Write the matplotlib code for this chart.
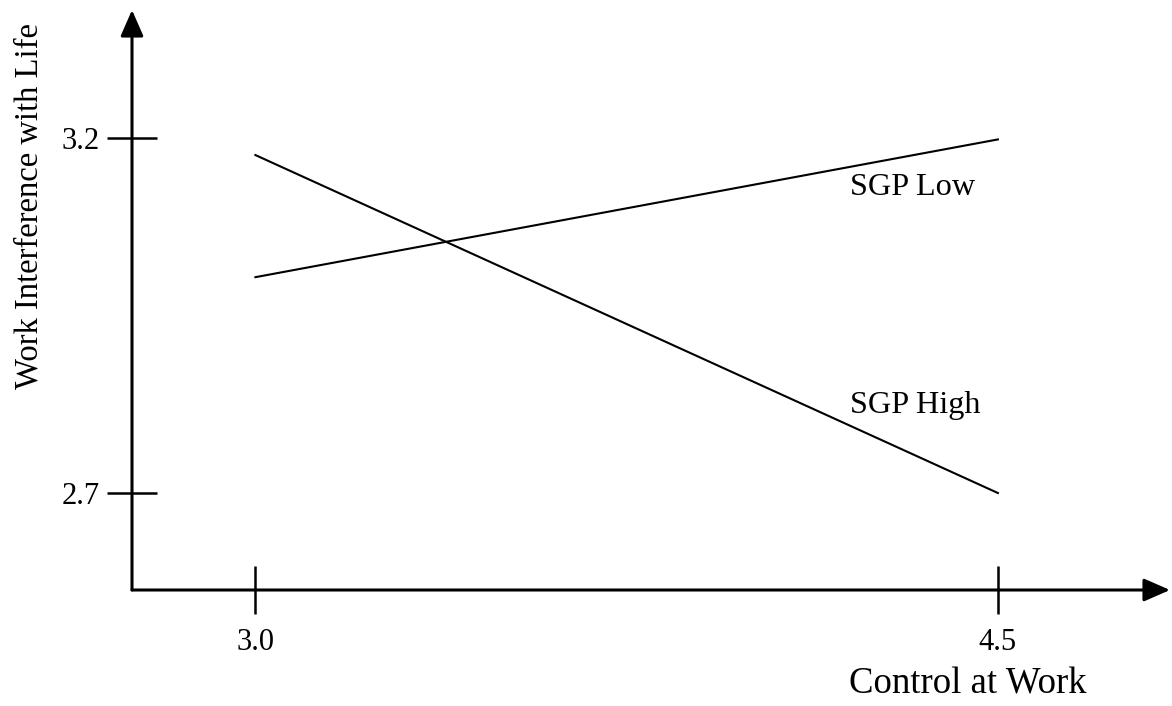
import matplotlib
matplotlib.use('Agg')
import matplotlib.pyplot as plt

plt.rcParams['font.family'] = ['Liberation Serif', 'DejaVu Serif']

# data
control = [3.0, 4.5]
sgp_low = [3.004, 3.198]
sgp_high = [3.176, 2.70]
xticks = [3.0, 4.5]
xtick_labels = ['3.0', '4.5']
yticks = [2.7, 3.2]
ytick_labels = ['2.7', '3.2']

FS = 22

fig = plt.figure(figsize=(11.72, 7.06), dpi=100)
ax = fig.add_axes([132 / 1172, 116 / 706, 1038 / 1172, 580 / 706])
ax.set_xlim(2.7507, 4.8477)
ax.set_ylim(2.5634, 3.3803)

ax.plot(control, sgp_low, color='black', lw=1.5)
ax.plot(control, sgp_high, color='black', lw=1.5)

ax.text(4.2008, 3.1197, 'SGP Low', fontsize=23.2, va='baseline', ha='left')
ax.text(4.2008, 2.8127, 'SGP High', fontsize=23.2, va='baseline', ha='left')

for s in ax.spines.values():
    s.set_visible(False)

# axes with arrow heads
arrow = dict(arrowstyle='-|>,head_length=0.8,head_width=0.35', mutation_scale=20,
             lw=2.2, color='black', shrinkA=0, shrinkB=0)
ax.annotate('', xy=(1, 0), xytext=(0, 0), xycoords='axes fraction',
            textcoords='axes fraction', arrowprops=arrow, annotation_clip=False)
ax.annotate('', xy=(0, 1), xytext=(0, 0), xycoords='axes fraction',
            textcoords='axes fraction', arrowprops=arrow, annotation_clip=False)

ax.set_xticks(xticks)
ax.set_xticklabels(xtick_labels, fontsize=FS)
ax.set_yticks(yticks)
ax.set_yticklabels(ytick_labels, fontsize=FS)
ax.tick_params(axis='x', direction='inout', length=35, width=1.8, pad=10)
ax.tick_params(axis='y', direction='inout', length=36, width=1.8, pad=5)

fig.text(29 / 1172, 1 - 206 / 706, 'Work Interference with Life', fontsize=23.5,
         rotation=90, ha='center', va='center')
fig.text(968 / 1172, 1 - 693 / 706, 'Control at Work', fontsize=26.5,
         ha='center', va='baseline')

fig.savefig('out.png', dpi=100, facecolor='white')
